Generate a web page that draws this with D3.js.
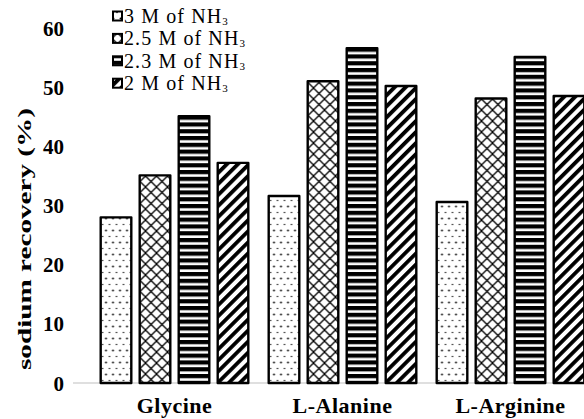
<!DOCTYPE html>
<html>
<head>
<meta charset="utf-8">
<script src="https://cdn.jsdelivr.net/npm/d3@7"></script>
<style>
  html, body { margin: 0; padding: 0; background: #fff; }
  svg { display: block; }
  svg text { font-family: "Liberation Serif", "DejaVu Serif", serif; }
</style>
</head>
<body>
<svg id="chart" width="584" height="419"></svg>
<script>
// Sodium recovery (%) for each amino acid at four NH3 concentrations
const categories = ["Glycine", "L-Alanine", "L-Arginine"];
const seriesNames = ["3 M of NH", "2.5 M of NH", "2.3 M of NH", "2 M of NH"];
const seriesKeys = ["m30", "m25", "m23", "m20"];
const values_m30 = [28.2, 31.8, 30.8];
const values_m25 = [35.3, 51.2, 48.3];
const values_m23 = [45.3, 56.8, 55.3];
const values_m20 = [37.4, 50.4, 48.7];
const yTicks = [0, 10, 20, 30, 40, 50, 60];
const yTitle = "sodium recovery (%)";

const seriesValues = { m30: values_m30, m25: values_m25, m23: values_m23, m20: values_m20 };

const svg = d3.select("#chart");
const defs = svg.append("defs");

// Fill patterns for the four series
// dotted
const pDots = defs.append("pattern").attr("id", "pat-m30")
  .attr("patternUnits", "userSpaceOnUse").attr("width", 7).attr("height", 12);
pDots.append("rect").attr("width", 7).attr("height", 12).attr("fill", "#fff");
pDots.append("circle").attr("cx", 1.5).attr("cy", 2.5).attr("r", 0.95).attr("fill", "#000");
pDots.append("circle").attr("cx", 5).attr("cy", 8.5).attr("r", 0.75).attr("fill", "#000");

// diagonal cross-hatch
const cs = 11;
const pCross = defs.append("pattern").attr("id", "pat-m25")
  .attr("patternUnits", "userSpaceOnUse").attr("width", cs).attr("height", cs);
pCross.append("rect").attr("width", cs).attr("height", cs).attr("fill", "#fff");
pCross.append("path")
  .attr("d", `M-1,-1L${cs + 1},${cs + 1}M${cs + 1},-1L-1,${cs + 1}`)
  .attr("stroke", "#000").attr("stroke-width", 1.3);

// horizontal stripes
const pStripes = defs.append("pattern").attr("id", "pat-m23")
  .attr("patternUnits", "userSpaceOnUse").attr("width", 10).attr("height", 6.8);
pStripes.append("rect").attr("width", 10).attr("height", 6.8).attr("fill", "#000");
pStripes.append("rect").attr("y", 4.2).attr("width", 10).attr("height", 2.6).attr("fill", "#fff");

// wide upward diagonal
const pDiag = defs.append("pattern").attr("id", "pat-m20")
  .attr("patternUnits", "userSpaceOnUse").attr("width", 7.8).attr("height", 7.8)
  .attr("patternTransform", "rotate(45)");
pDiag.append("rect").attr("width", 7.8).attr("height", 7.8).attr("fill", "#fff");
pDiag.append("rect").attr("width", 3.8).attr("height", 7.8).attr("fill", "#000");

// Scales
const x0 = d3.scaleBand().domain(categories).range([90.5, 594.5]).padding(0);
const x1 = d3.scaleBand().domain(seriesKeys).range([6, x0.bandwidth() - 6])
  .paddingInner(6 / 39).paddingOuter(3 / 39);
const y = d3.scaleLinear().domain([0, 60]).range([383, 28]);

// Baseline
svg.append("line")
  .attr("x1", 73).attr("x2", 584)
  .attr("y1", y(0)).attr("y2", y(0))
  .attr("stroke", "#d4d4d4").attr("stroke-width", 1.5);

// Y axis (labels only)
const yAxis = d3.axisLeft(y).tickValues(yTicks).tickSize(0).tickPadding(0);
const gy = svg.append("g").attr("transform", "translate(64,0)").call(yAxis);
gy.select(".domain").remove();
gy.selectAll("text")
  .attr("font-size", 21).attr("font-weight", "bold").attr("fill", "#000")
  .attr("dy", "0.34em");

// Y axis title
svg.append("text")
  .attr("transform", `translate(31,${239}) rotate(-90)`)
  .attr("text-anchor", "middle")
  .attr("font-size", 19).attr("font-weight", "bold").attr("fill", "#000")
  .attr("textLength", 262).attr("lengthAdjust", "spacingAndGlyphs")
  .text(yTitle);

// Bars
const sw = 2.4;
const groups = svg.append("g").selectAll("g")
  .data(categories)
  .join("g")
  .attr("transform", d => `translate(${x0(d)},0)`);

groups.selectAll("rect")
  .data((d, i) => seriesKeys.map(k => ({ key: k, value: seriesValues[k][i] })))
  .join("rect")
  .attr("x", d => x1(d.key) + sw / 2)
  .attr("width", x1.bandwidth() - sw)
  .attr("y", d => y(d.value) + sw / 2)
  .attr("height", d => y(0) - y(d.value) - sw / 2)
  .attr("fill", d => `url(#pat-${d.key})`)
  .attr("stroke", "#000").attr("stroke-width", sw)
  .attr("stroke-linejoin", "round");

// Category labels
const xAxis = d3.axisBottom(x0).tickSize(0).tickPadding(0);
const gx = svg.append("g").attr("transform", "translate(0,413)").call(xAxis);
gx.select(".domain").remove();
gx.selectAll("text")
  .attr("font-size", 22).attr("font-weight", "bold").attr("fill", "#000")
  .attr("letter-spacing", 0.5)
  .attr("dy", 0);

// Legend
const legend = svg.append("g").attr("transform", "translate(112,0)");
const rows = legend.selectAll("g")
  .data(seriesKeys)
  .join("g")
  .attr("transform", (d, i) => `translate(0,${16 + i * 22.4})`);
rows.append("rect")
  .attr("x", 1).attr("y", -4.5).attr("width", 9).attr("height", 9)
  .attr("fill", d => `url(#pat-${d})`)
  .attr("stroke", "#000").attr("stroke-width", 2);
const lt = rows.append("text")
  .attr("x", 12).attr("dy", "0.34em")
  .attr("font-size", 20).attr("letter-spacing", 1.1).attr("fill", "#000");
lt.append("tspan").text((d, i) => seriesNames[i]);
lt.append("tspan").attr("font-size", 11).attr("dy", 2).text("3");
</script>
</body>
</html>
